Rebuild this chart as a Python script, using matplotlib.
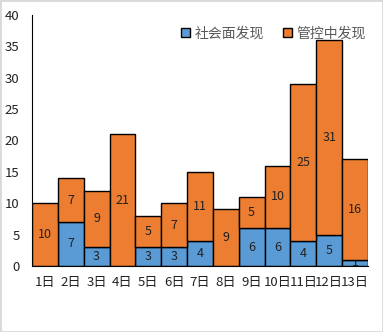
import matplotlib
matplotlib.use("Agg")
import matplotlib.pyplot as plt
import numpy as np

plt.rcParams['font.family'] = ['Noto Sans CJK SC', 'DejaVu Sans']

days = ['1日', '2日', '3日', '4日', '5日', '6日', '7日', '8日', '9日', '10日', '11日', '12日', '13日']
社会面 = [0, 7, 3, 0, 3, 3, 4, 0, 6, 6, 4, 5, 1]
管控中 = [10, 7, 9, 21, 5, 7, 11, 9, 5, 10, 25, 31, 16]

blue = '#5b9bd5'
orange = '#ed7d31'

fig = plt.figure(figsize=(3.83, 3.32), dpi=100)
ax = fig.add_axes([0.0836, 0.199, 0.877, 0.756])

x = np.arange(len(days))
ax.bar(x, 社会面, width=1.0, color=blue, edgecolor='black', linewidth=1, label='社会面发现', zorder=1)
ax.bar(x, 管控中, width=1.0, bottom=社会面, color=orange, edgecolor='black', linewidth=1, label='管控中发现', zorder=2)

# 数据标签 (蓝色标签在橙色柱子下面)
for i in range(len(days)):
    if 社会面[i] > 0:
        ax.text(x[i], 社会面[i] / 2, str(社会面[i]), ha='center', va='center', fontsize=9, color='#222222', zorder=1.5)
    if 管控中[i] > 0:
        ax.text(x[i], 社会面[i] + 管控中[i] / 2, str(管控中[i]), ha='center', va='center', fontsize=9, color='#222222', zorder=3)

ax.set_xlim(-0.5, len(days) - 0.5)
ax.set_ylim(0, 40)
ax.set_yticks(range(0, 41, 5))
ax.set_xticks(x)
ax.set_xticklabels(days)
ax.tick_params(axis='both', length=0, labelsize=9.5, labelcolor='#222222')
ax.tick_params(axis='x', pad=7)
ax.tick_params(axis='y', pad=9)
for s in ['top', 'right']:
    ax.spines[s].set_visible(False)

ax.legend(loc='center right', bbox_to_anchor=(0.994, 0.926), ncol=2, frameon=False,
          fontsize=10, handlelength=0.6, handleheight=0.6, handletextpad=0.35,
          columnspacing=1.4, borderpad=0, borderaxespad=0, labelcolor='#595959')

fig.patches.append(plt.Rectangle((0, 0), 1, 1, transform=fig.transFigure, fill=False,
                                 edgecolor='#d9d9d9', linewidth=2))

fig.savefig('out.png', dpi=100)
